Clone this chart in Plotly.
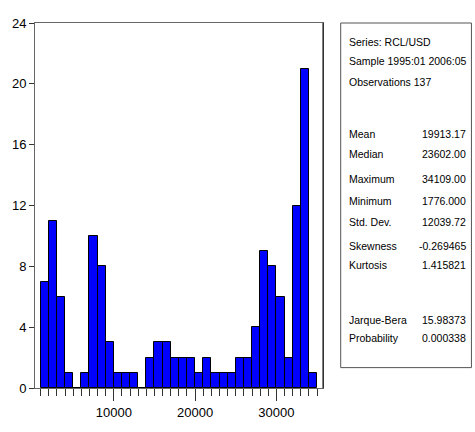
import plotly.graph_objects as go

# ---- data -------------------------------------------------------------
bin_lower = [1000, 2000, 3000, 4000, 5000, 6000, 7000, 8000, 9000, 10000,
             11000, 12000, 13000, 14000, 15000, 16000, 17000, 18000, 19000,
             20000, 21000, 22000, 23000, 24000, 25000, 26000, 27000, 28000,
             29000, 30000, 31000, 32000, 33000, 34000]
counts = [7, 11, 6, 1, 0, 1, 10, 8, 3, 1,
          1, 1, 0, 2, 3, 3, 2, 2, 2,
          1, 2, 1, 1, 1, 2, 2, 4, 9,
          8, 6, 2, 12, 21, 1]
bin_width = 1000

header_lines = ["Series: RCL/USD", "Sample 1995:01 2006:05", "Observations 137"]
stat_labels = ["Mean", "Median", "Maximum", "Minimum", "Std. Dev.",
               "Skewness", "Kurtosis", "Jarque-Bera", "Probability"]
stat_values = ["19913.17", "23602.00", "34109.00", "1776.000", "12039.72",
               "-0.269465", "1.415821", "15.98373", "0.000338"]

x_ticks = [10000, 20000, 30000]
x_range = [311, 35725]
y_range = [0, 24]

# ---- layout geometry (pixels) ------------------------------------------
W, H = 475, 432
PL, PR, PT, PB = 30, 323, 23, 399

def px_x(p):
    return (p - PL) / (PR - PL)

def px_y(p):
    return (PB - p) / (PB - PT)

FONT = "Liberation Sans, Arial, sans-serif"
BOX_FS = 10.5

fig = go.Figure()
fig.add_trace(go.Bar(
    x=bin_lower, y=counts, width=bin_width, offset=0,
    marker=dict(color="#0000FF", line=dict(color="#000000", width=1)),
    hoverinfo="x+y",
))

shapes = [
    # stats box
    dict(type="rect", xref="paper", yref="paper",
         x0=px_x(341), x1=px_x(474), y0=px_y(378), y1=px_y(23),
         line=dict(color="#555555", width=1), fillcolor="rgba(0,0,0,0)"),
    # darker right edge of plot frame
    dict(type="line", xref="paper", yref="paper", x0=1, x1=1, y0=0, y1=1,
         line=dict(color="#000000", width=1)),
]

annotations = []
header_y = [43, 62.5, 84]
for t, yy in zip(header_lines, header_y):
    annotations.append(dict(text=t, xref="paper", yref="paper", x=px_x(347), y=px_y(yy),
                            xanchor="left", yanchor="middle", showarrow=False,
                            font=dict(family=FONT, size=BOX_FS, color="black")))
stat_y = [137, 157.5, 183.5, 206, 228.3, 253, 272.5, 329, 347.5]
for lab, val, yy in zip(stat_labels, stat_values, stat_y):
    annotations.append(dict(text=lab, xref="paper", yref="paper", x=px_x(347), y=px_y(yy),
                            xanchor="left", yanchor="middle", showarrow=False,
                            font=dict(family=FONT, size=BOX_FS, color="black")))
    annotations.append(dict(text=val, xref="paper", yref="paper", x=px_x(471), y=px_y(yy),
                            xanchor="right", yanchor="middle", showarrow=False,
                            font=dict(family=FONT, size=BOX_FS, color="black")))

fig.update_layout(
    width=W, height=H,
    margin=dict(l=PL, r=W - PR, t=PT, b=H - PB, pad=0),
    paper_bgcolor="white", plot_bgcolor="white",
    showlegend=False, bargap=0,
    shapes=shapes, annotations=annotations,
    font=dict(family=FONT, size=13, color="black"),
)
fig.update_xaxes(
    range=x_range, tickmode="array", tickvals=x_ticks, tickformat="d",
    ticks="outside", ticklen=12, tickcolor="#333333", tickwidth=1,
    minor=dict(ticks="outside", ticklen=7, dtick=1000, tick0=0,
               tickcolor="#333333", tickwidth=1, showgrid=False),
    showgrid=False, zeroline=False, showline=True, linecolor="#666666",
    linewidth=1, mirror=True, tickfont=dict(family=FONT, size=13, color="black"),
)
fig.update_yaxes(
    range=y_range, dtick=4, tick0=0,
    ticks="outside", ticklen=5, tickcolor="#333333", tickwidth=1,
    showgrid=False, zeroline=False, showline=True, linecolor="#666666",
    linewidth=1, mirror=True, tickfont=dict(family=FONT, size=13, color="black"),
)

fig.write_html("out.html")
